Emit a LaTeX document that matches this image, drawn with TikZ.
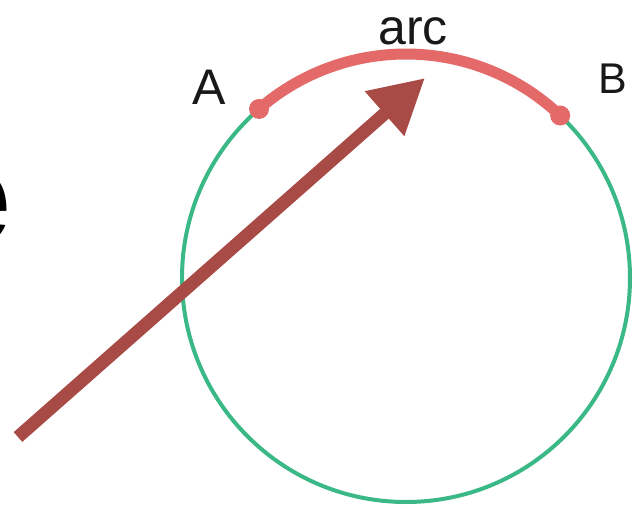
\documentclass[tikz,border=0pt]{standalone}
\usepackage{fontspec}
\setmainfont{Liberation Sans}
\usetikzlibrary{arrows.meta}
\definecolor{arrowred}{RGB}{168,74,69}
\definecolor{arcred}{RGB}{228,106,106}
\definecolor{ringgreen}{RGB}{58,184,134}
\begin{document}
\begin{tikzpicture}[x=1pt, y=-1pt,
    lbl/.style={inner sep=0pt, text=black!90, font=\fontsize{50}{50}\selectfont}]
    % 1. Khung
    \clip (0,0) rectangle (633,509);

    % 2. Đường tròn và cung AB
    \coordinate (O) at (406,278);
    \draw[ringgreen, line width=4pt] (O) circle (224pt);
    \coordinate (A) at ([shift={(131:224pt)}]O);
    \coordinate (B) at ([shift={(46.5:224pt)}]O);
    \draw[arcred, line width=11pt] (A) arc[start angle=131, end angle=46.5, radius=224pt];
    \fill[arcred] (A) circle (10pt);
    \fill[arcred] (B) circle (10pt);

    % 3. Nhãn
    \node[lbl, anchor=base] (arclbl) at (413,44) {arc};
    \node[lbl, anchor=base] (Albl) at (209,104) {A};
    \node[lbl, anchor=base west, font=\fontsize{43}{43}\selectfont] (Blbl) at (598,93) {B};
    \node[inner sep=0pt, anchor=base east, font=\fontsize{135}{135}\selectfont\bfseries] (word) at (12,243) {e};

    % 4. Mũi tên
    \coordinate (tail) at (18,437);
    \coordinate (tip) at (425,78);
    \draw[arrowred, line width=13pt, -{Triangle[length=54pt, width=56pt]}] (tail) -- (tip);
\end{tikzpicture}
\end{document}
